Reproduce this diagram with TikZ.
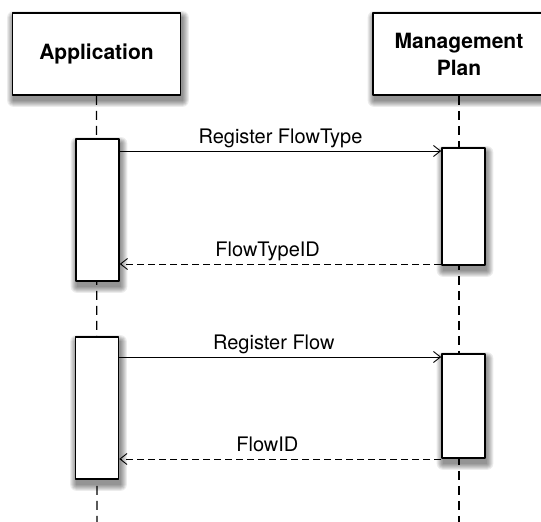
\documentclass[tikz,border=0pt]{standalone}
\usepackage{fontspec}
\setmainfont{TeX Gyre Heros}
\usetikzlibrary{arrows.meta,backgrounds}
\begin{document}
\begin{tikzpicture}[x=1pt,y=-1pt,line join=round,>={Straight Barb[length=7pt,width=11pt]}]
	\tikzset{actor/.style={draw,line width=1.6pt,fill=white,inner sep=0pt,minimum height=82pt,align=center,font=\fontsize{21}{27}\selectfont\bfseries},
		act/.style={draw,line width=1.6pt,fill=white,inner sep=0pt,minimum width=43pt},
		lifeline/.style={line width=1.3pt,dash pattern=on 9pt off 6pt},
		msg/.style={->,line width=0.9pt},
		ret/.style={msg,dash pattern=on 7pt off 4pt},
		lbl/.style={font=\fontsize{20}{24}\selectfont,above=7pt,inner sep=0pt,text depth=0pt}}
	\useasboundingbox (0,0) rectangle (541,522);
	% participants
	\node[actor,minimum width=168pt] (app) at (96.5,54) {Application};
	\node[actor,minimum width=172pt] (mgmt) at (459,54) {Management\\Plan};
	\coordinate (appEnd) at (97,522);
	\coordinate (mgmtEnd) at (459,522);
	\draw[lifeline] (app.south) -- (appEnd);
	\draw[lifeline] (mgmt.south) -- (mgmtEnd);
	% activations
	\node[act,minimum height=142pt] (appA) at (97.5,210) {};
	\node[act,minimum height=117pt] (mgmtA) at (463.5,206.5) {};
	\node[act,minimum height=142pt] (appB) at (97,408) {};
	\node[act,minimum height=104pt] (mgmtB) at (463.5,406) {};
	% soft shadows
	\begin{scope}[on background layer]
		\foreach \n in {app,mgmt,appA,mgmtA,appB,mgmtB}
			\foreach \r in {0,...,6}
				\fill[black,opacity=0.075,rounded corners=\r pt] ([shift={(1.5-\r,5+\r)}]\n.south west) rectangle ([shift={(1.5+\r,5-\r)}]\n.north east);
	\end{scope}
	% messages
	\draw[msg] (appA.east |- 0,151) -- node[lbl] {Register FlowType} (mgmtA.west |- 0,151);
	\draw[ret] (mgmtA.west |- 0,264) -- node[lbl,pos=0.54] {FlowTypeID} (appA.east |- 0,264);
	\draw[msg] (appB.east |- 0,357) -- node[lbl,pos=0.48] {Register Flow} (mgmtB.west |- 0,357);
	\draw[ret] (mgmtB.west |- 0,459) -- node[lbl,pos=0.54] {FlowID} (appB.east |- 0,459);
\end{tikzpicture}
\end{document}
